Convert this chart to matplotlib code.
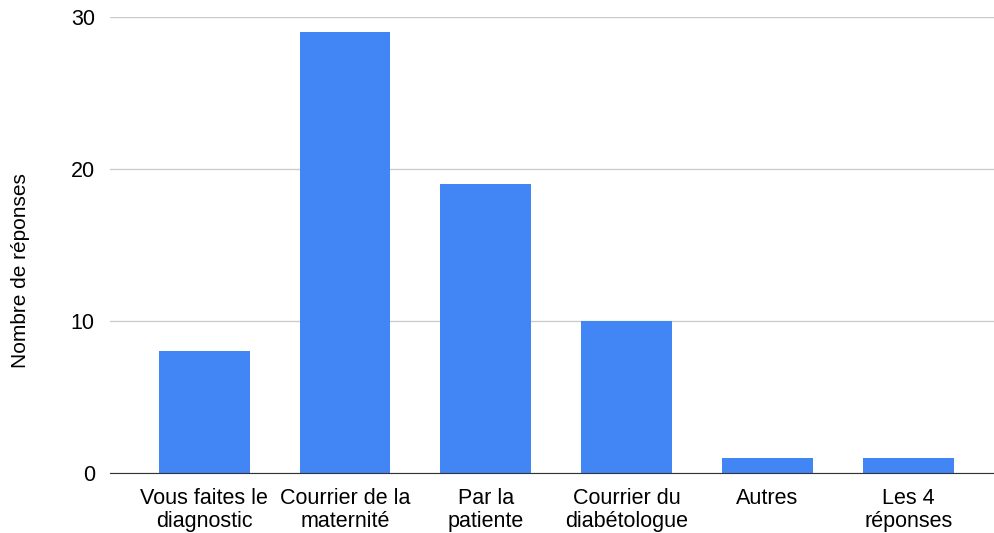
import matplotlib.pyplot as plt
import numpy as np

plt.rcParams['font.family'] = ['Liberation Sans', 'DejaVu Sans']

# Data
categories = ['Vous faites le\ndiagnostic', 'Courrier de la\nmaternité', 'Par la\npatiente',
              'Courrier du\ndiabétologue', 'Autres', 'Les 4\nréponses']
responses = [8, 29, 19, 10, 1, 1]
y_ticks = [0, 10, 20, 30]

fig = plt.figure(figsize=(9.94, 5.33), dpi=100)
ax = fig.add_axes([0.1107, 0.1126, 0.8893, 0.8555])

x = np.arange(len(categories))
ax.bar(x, responses, width=0.645, color='#4285F4', zorder=3)

ax.set_ylim(0, 30)
ax.set_xlim(-0.67, len(categories) - 1 + 0.61)
ax.set_yticks(y_ticks)
ax.set_xticks(x)
ax.set_xticklabels(categories, fontsize=15.5, linespacing=1.12)
ax.tick_params(axis='y', labelsize=15.5, length=0, pad=11)
ax.tick_params(axis='x', length=0, pad=11)

ax.grid(axis='y', color='#cccccc', linewidth=1, zorder=0)
for side in ['left', 'right', 'top']:
    ax.spines[side].set_visible(False)
ax.spines['bottom'].set_color('#333333')
ax.spines['bottom'].set_zorder(4)

ax.set_ylabel('Nombre de réponses', fontsize=15)
ax.yaxis.set_label_coords(-0.0905, 0.445)

fig.savefig('out.png', dpi=100)
